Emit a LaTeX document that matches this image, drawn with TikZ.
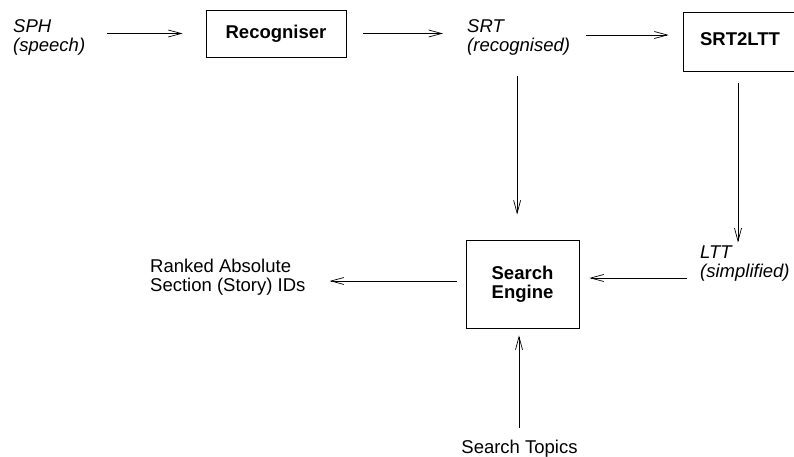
\documentclass[tikz,border=0pt]{standalone}
\usepackage{fontspec}
\setmainfont{Liberation Sans}
\usetikzlibrary{arrows.meta}
\begin{document}
\begin{tikzpicture}[x=1pt,y=-1pt,
  font=\fontsize{18.5}{19}\selectfont,
  box/.style={draw, line width=0.8pt, inner sep=0pt, align=center,
    font=\fontsize{18.5}{19}\selectfont\bfseries},
  lbl/.style={inner sep=0pt, align=left, anchor=west},
  ilbl/.style={lbl, font=\fontsize{18.5}{19}\selectfont\itshape},
  flow/.style={line width=0.7pt,
    -{Straight Barb[length=13pt,width=7pt,line width=0.7pt]}}]
\useasboundingbox (0,0) rectangle (794,457);
% boxes
\node[box, minimum width=140pt, minimum height=47pt] (rec) at (276,33.5) {Recogniser};
\node[box, minimum width=114pt, minimum height=59pt] (s2l) at (740,41.5) {\raisebox{5pt}{SRT2LTT}};
\node[box, minimum width=113pt, minimum height=88pt] (se) at (522.5,284) {Search\\Engine};
% labels
\node[ilbl] (sph) at (13,37.5) {SPH\\(speech)};
\node[ilbl] (srt) at (467,37.5) {SRT\\(recognised)};
\node[ilbl] (ltt) at (700,263.5) {LTT\\(simplified)};
\node[lbl] (ids) at (150,277) {Ranked Absolute\\Section (Story) IDs};
\node[lbl, anchor=base] (topics) at (519.5,453) {Search Topics};
% connectors
\draw[flow, shorten <=22pt, shorten >=23pt] (sph.east |- rec.west) -- (rec.west);
\draw[flow, shorten <=17pt, shorten >=24pt] (rec.east) -- (rec.east -| srt.west);
\draw[flow, shorten <=16pt, shorten >=14pt] ([yshift=6.5pt]s2l.west -| srt.east) -- ([yshift=6.5pt]s2l.west);
\draw[flow, shorten <=20pt, shorten >=25pt] ([xshift=-1.5pt]srt.south) -- ([xshift=-1.5pt]srt.south |- se.north);
\draw[flow, shorten <=12pt, shorten >=3pt] ([xshift=-2pt]s2l.south) -- ([xshift=-2pt]s2l.south |- ltt.north);
\draw[flow, shorten <=13pt, shorten >=10pt] ([yshift=6pt]se.east -| ltt.west) -- ([yshift=6pt]se.east);
\draw[flow, shorten <=9pt, shorten >=24pt] ([yshift=3pt]se.west) -- ([yshift=3pt]se.west -| ids.east);
\draw[flow, shorten <=11pt, shorten >=7pt] ([xshift=-0.5pt]topics.north) -- ([xshift=-0.5pt]topics.north |- se.south);
\end{tikzpicture}
\end{document}
